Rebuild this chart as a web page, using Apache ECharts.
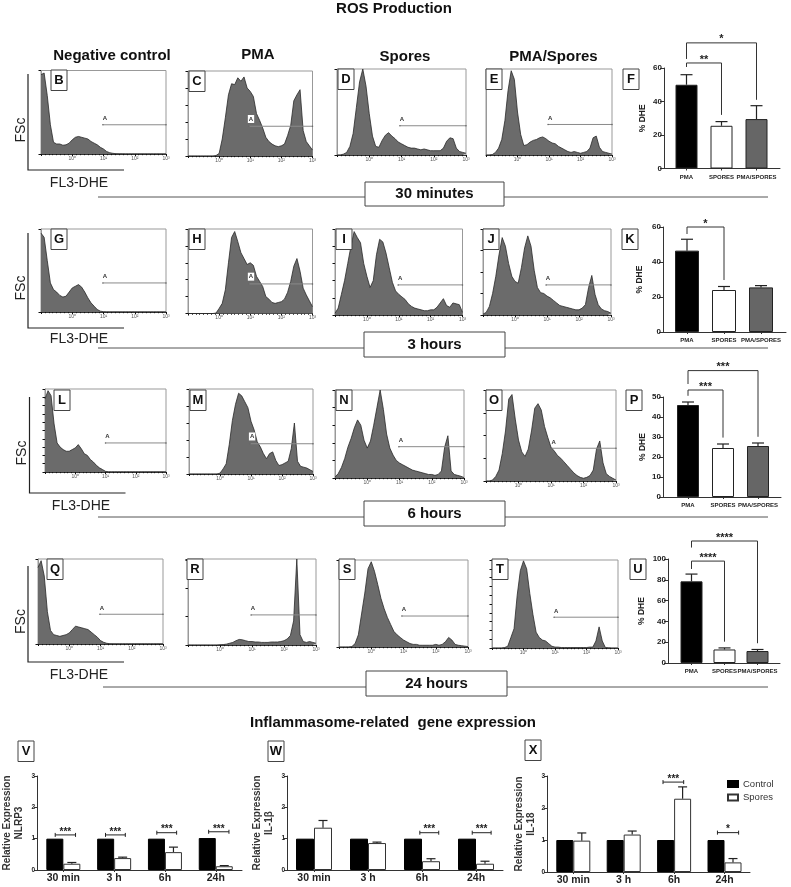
<!DOCTYPE html>
<html><head><meta charset="utf-8">
<script src="https://cdn.jsdelivr.net/npm/echarts@6/dist/echarts.min.js"></script>
<style>html,body{margin:0;padding:0;background:#fff}#c{width:791px;height:887px}</style>
</head><body><div id="c"></div>
<script>
// ---------- histogram values (height in % of the plot, one reading every 0.1 decade)
const histB=[95,97,70,35,14,12,12,10.5,11,13,17,20,21,20,19,18,15,13,11,8,6,3,1.5,.8,.4,.3,.3,.2,.2,.2,.2,.2,.2,.2,.2,.2,.2,.2,.2,.2,.2];
const histC=[0,0,0,0,0,0,0,0,0,.5,3,20,45,72,85,84,92,88,93,80,76,70,50,42,33,22,17,14,12,11,12,14,24,36,65,72,78,30,17,12,7];
const histD=[0,0,1,3,10,25,55,85,100,80,48,22,10,9,17,23,26,22,19,15,13,11,9,8,8,7,6,7,6,5,5,5,5,8,16,20,19,8,4,3,2];
const histE=[0,0,.5,3,8,18,40,75,98,88,50,24,11,12,15,17,18,20,21,19,16,14,13,10,8,6,4,3,4,3,2,3,4,8,20,22,9,4,3,2,1];
const histG=[95,90,62,35,27,24,20,18,19,24,29,31,33,30,24,17,11,7,3,1,.4,.2,.2,.2,.2,.2,.2,.2,.2,.2,.2,.2,.2,.2,.2,.2,.2,.2,.2,.2,.2];
const histH=[0,0,0,0,0,0,0,0,0,.5,6,12,28,60,90,97,85,72,65,58,60,57,44,38,32,20,17,13,12,13,14,17,25,38,56,65,50,30,22,15,8];
const histI=[2,8,24,40,60,80,97,90,84,60,45,32,40,70,88,85,72,55,38,28,24,21,18,13,10,8,7,6,5,5,6,6,9,14,19,11,9,14,13,12,3];
const histJ=[1,3,10,25,45,70,90,80,60,45,39,37,55,78,92,80,52,32,26,25,22,20,17,14,11,10,9,8,7,6,6,8,12,32,46,24,12,7,5,4,2];
const histL=[88,98,92,58,35,30,27,25,25,27,29,33,28,22,20,15,12,8,5,3,.8,.3,.3,.3,.3,.3,.3,.3,.3,.3,.3,.3,.3,.3,.3,.3,.3,.3,.3,.3,.3];
const histM=[0,0,0,0,0,0,0,0,0,0,1,6,12,35,63,82,95,92,85,78,62,52,38,32,24,18,24,26,16,10,11,13,15,30,60,15,9,8,7,5,3];
const histN=[1,5,12,22,35,45,57,66,60,43,34,42,60,80,100,78,50,34,26,20,17,15,13,11,9,8,7,6,5,4,4,3,4,8,35,48,8,4,3,2,.5];
const histO=[0,0,1,5,12,30,55,90,95,68,45,32,27,35,55,80,85,78,60,48,37,33,28,25,21,17,13,9,6,4,3,4,6,12,35,44,20,8,5,3,1];
const histQ=[90,98,80,38,16,11,10,9,10,11,13,17,21,20,19,18,17,14,11,8,4,2,.8,.4,.3,.3,.3,.3,.3,.3,.3,.3,.3,.3,.3,.3,.3,.3,.3,.3,.3];
const histR=[0,0,0,0,0,0,0,0,0,0,.3,.5,1,2,3,5,6.5,6,5,4,4,3.5,3.5,3,3,3,3.5,3.5,3.5,4,5,7,11,28,100,12,4,3,4,3,2];
const histS=[0,0,0,0,.5,4,14,38,62,90,98,87,72,56,44,34,26,18,14,11,8,6,4,3,3,2,2,2,2,2,3,2,3,6,11,8,3,2,1.5,1,.5];
const histT=[0,0,0,0,.5,2,12,22,60,88,99,90,62,38,18,12,9,8,5,2,1,1,.5,.5,.5,.5,.5,.5,.5,.5,.5,1,1,8,24,8,.5,.3,0,0,0];
// gate A: start decade and height (%)
const gates={B:[1.98,35],C:[1.96,35],D:[1.95,34],E:[1.97,35.5],G:[1.98,35],H:[1.96,35],I:[1.98,35],J:[1.97,35],L:[2,35],M:[1.97,35.6],N:[1.98,35.6],O:[2.02,36],Q:[1.98,35],R:[1.97,35],S:[1.95,35.6],T:[1.97,35]};
const decadeLabels=['10⁰','10¹','10²','10³'];

// ---------- % DHE bars
const dheCategories=['PMA','SPORES','PMA/SPORES'];
const dheF=[50,25.5,29.5], dheFTop=[56,28,37.5];
const dheK=[46.5,24,25.5], dheKTop=[53,26,26.5];
const dheP=[46,24.5,25.5], dhePTop=[47.5,26.5,27];
const dheU=[78.5,13,11.5], dheUTop=[85.5,14.5,13];
const sigF=[[0,1,60.6,63,32,'**'],[0,2,65.4,75,41,'*']];
const sigK=[[0,1,56,60,29.7,'*']];
const sigP=[[0,1,50.6,53.5,29.7,'***'],[0,2,56.5,63.2,30.1,'***']];
const sigU=[[0,1,90.4,98,20.5,'****'],[0,2,111,117.3,19,'****']];

// ---------- gene expression
const timeLabels=['30 min','3 h','6h','24h'];
const nlrp3Control=[1,1,1,1.02], nlrp3Spores=[.2,.38,.57,.12], nlrp3Top=[.24,.41,.73,.14];
const il1bControl=[1,1,1,1], il1bSpores=[1.35,.86,.28,.2], il1bTop=[1.58,.89,.36,.28];
const il18Control=[1,1,1,1], il18Spores=[.98,1.17,2.29,.3], il18Top=[1.22,1.28,2.66,.42];
const sigV=[[-.16,.24,1.12,'***'],[.83,1.22,1.12,'***'],[1.84,2.23,1.19,'***'],[2.86,3.26,1.22,'***']];
const sigW=[[1.96,2.31,1.19,'***'],[2.93,3.28,1.19,'***']];
const sigX=[[1.78,2.19,2.81,'***'],[2.86,3.28,1.23,'*']];

// ---------- layout (separate from the values)
const histBox={B:[41,70.5,125,83.5],C:[188,71,124.5,85],D:[337,69,129,86],E:[486,69,126,86],
 G:[41,229,125,83],H:[188,229,124.5,84.5],I:[335,229,127.5,86],J:[483,229,128,86],
 L:[45,389,121,83],M:[189,389,124,85],N:[335,390,129,88],O:[486,390,130,91],
 Q:[38,559,125,85],R:[188,559,128,86],S:[339,560,129,87],T:[492,560,126,88]};
const yTickInterval={B:100,C:20,D:100,E:200,G:100,H:20,I:20,J:25,L:10,M:20,N:20,O:25,Q:100,R:33,S:100,T:10};
const histSeries={B:histB,C:histC,D:histD,E:histE,G:histG,H:histH,I:histI,J:histJ,L:histL,M:histM,N:histN,O:histO,Q:histQ,R:histR,S:histS,T:histT};
const whiteGateLabel={C:1,H:1,M:1};
const letterBoxes=[['B',51,70],['C',189,71],['D',338,69],['E',486,69],['F',623,69],['G',51,229],['H',189,229],['I',336,229],['J',483,229],['K',622,229],
 ['L',54,390],['M',190,390],['N',336,390],['O',486,390],['P',626,390],['Q',47,559],['R',187,559],['S',339,559],['T',492,559],['U',630,559],['V',18,741],['W',268,741],['X',525,740]];
const rowLabels=[['30 minutes',98,768,182,206,365,504,197],['3 hours',98,768,332,357,364,505,348],['6 hours',98,768,501,526,364,505,517],['24 hours',103,768,671,696,366,507,687]];
const cornerAxes=[[28,74,170,124,21,130,79,183],[28,233,328,124,21,288,79,339],[29.5,397,493,125.5,22,453,81,506.5],[28,566,662,124,21,621.5,79,675]];
const headings=[['ROS Production',394,9,15],['Negative control',112,56,15],['PMA',258,55,15],['Spores',405,57,15],['PMA/Spores',553.5,57,15],['Inflammasome-related  gene expression',393,723,15]];

const grid=[],xAxis=[],yAxis=[],series=[],graphic=[];
const FONT='"Liberation Sans",Arial,sans-serif';

function addHist(key){
  const [l,t,w,h]=histBox[key], idx=grid.length;
  grid.push({left:l,top:t,width:w,height:h,show:true,borderColor:'#999',borderWidth:1,backgroundColor:'transparent'});
  xAxis.push({type:'value',gridIndex:idx,min:0,max:4,interval:1,splitLine:{show:false},
    axisLine:{onZero:false,lineStyle:{color:'#333',width:1}},axisTick:{length:2,lineStyle:{color:'#111'}},
    minorTick:{show:true,splitNumber:8,length:1.2,lineStyle:{color:'#111'}},
    axisLabel:{margin:2,fontSize:5,color:'#555',fontFamily:FONT,formatter:v=>v>0?decadeLabels[v-1]:''}});
  yAxis.push({type:'value',gridIndex:idx,min:0,max:100,interval:yTickInterval[key],splitLine:{show:false},
    axisLine:{show:true,onZero:false,lineStyle:{color:'#999'}},axisTick:{show:yTickInterval[key]<=100,length:2.5,lineStyle:{color:'#111'}},axisLabel:{show:false}});
  series.push({type:'line',xAxisIndex:idx,yAxisIndex:idx,data:histSeries[key].map((v,i)=>[i/10,v]),
    symbol:'none',smooth:false,lineStyle:{color:'#2a2a2a',width:.8},areaStyle:{color:'#6b6b6b',opacity:1},silent:true});
  const g=gates[key];
  series.push({type:'line',xAxisIndex:idx,yAxisIndex:idx,symbol:'circle',symbolSize:1.5,silent:true,
    lineStyle:{color:'#8a8a8a',width:1},itemStyle:{color:'#666'},z:5,
    data:[{value:[g[0],g[1]],label:{show:true,formatter:'A',position:'top',distance:2.5,offset:[2,0],fontSize:6,fontWeight:'bold',color:'#333',fontFamily:FONT,
      backgroundColor:whiteGateLabel[key]?'#fff':'transparent',padding:whiteGateLabel[key]?[1,1]:0}},[4,g[1]]]});
}

function errSeries(idx,items,dx,cap){
  return {type:'custom',xAxisIndex:idx,yAxisIndex:idx,data:items,silent:true,clip:false,z:1,encode:{x:0,y:[1,2]},
    renderItem(p,api){
      const a=api.coord([api.value(0),api.value(1)]),b=api.coord([api.value(0),api.value(2)]),x=a[0]+dx;
      const st={stroke:'#222',lineWidth:1.2,fill:null};
      return {type:'group',children:[
        {type:'line',shape:{x1:x,y1:a[1],x2:x,y2:b[1]},style:st},
        {type:'line',shape:{x1:x-cap,y1:b[1],x2:x+cap,y2:b[1]},style:st}]};
    }};
}

function addDhe(values,tops,sig,cfg){
  const idx=grid.length;
  grid.push({left:cfg.left,top:cfg.top,width:cfg.right-cfg.left,height:cfg.bottom-cfg.top});
  xAxis.push({type:'value',gridIndex:idx,min:(cfg.left-cfg.c0)/cfg.sp,max:(cfg.right-cfg.c0)/cfg.sp,splitLine:{show:false},
    axisLine:{onZero:false,lineStyle:{color:'#333',width:1}},
    axisTick:{customValues:[0,1,2],length:2,lineStyle:{color:'#333'}},
    axisLabel:{customValues:[0,1,2],margin:5.5,fontSize:6,fontWeight:'bold',color:'#222',fontFamily:FONT,formatter:v=>dheCategories[v]}});
  yAxis.push({type:'value',gridIndex:idx,min:0,max:cfg.ymax,interval:cfg.interval,splitLine:{show:false},
    name:'% DHE',nameLocation:'middle',nameGap:cfg.gap,nameTextStyle:{fontSize:8.5,fontWeight:'bold',color:'#222',fontFamily:FONT},
    axisLine:{show:true,onZero:false,lineStyle:{color:'#333',width:1}},axisTick:{length:4,lineStyle:{color:'#333',width:1}},
    axisLabel:{margin:2,fontSize:8,fontWeight:'bold',color:'#222',fontFamily:FONT}});
  const colors=['#000','#fff','#666'];
  series.push({type:'bar',xAxisIndex:idx,yAxisIndex:idx,barWidth:cfg.barW,silent:true,z:2,
    data:values.map((v,i)=>({value:[i,v],itemStyle:{color:colors[i],borderColor:'#222',borderWidth:1}}))});
  series.push(errSeries(idx,values.map((v,i)=>[i,v,tops[i]]),0,6));
  series.push({type:'custom',xAxisIndex:idx,yAxisIndex:idx,data:sig.map(s=>s.slice(0,5)),silent:true,clip:false,z:3,encode:{x:[0,1],y:[2,3,4]},
    renderItem(p,api){
      const s=sig[p.dataIndex];
      const A=api.coord([s[0],s[2]]),B=api.coord([s[0],s[3]]),C=api.coord([s[1],s[3]]),D=api.coord([s[1],s[4]]);
      return {type:'group',children:[
        {type:'polyline',shape:{points:[A,B,C,D]},style:{stroke:'#333',lineWidth:1,fill:null}},
        {type:'text',style:{text:s[5],x:(B[0]+C[0])/2,y:B[1]+2,textAlign:'center',textVerticalAlign:'bottom',fontSize:11,fontWeight:'bold',fontFamily:FONT,fill:'#222'}}]};
    }});
}

function addGene(control,spores,tops,sig,gene,cfg){
  const idx=grid.length;
  grid.push({left:cfg.left,top:cfg.top,width:cfg.right-cfg.left,height:cfg.bottom-cfg.top});
  xAxis.push({type:'value',gridIndex:idx,min:(cfg.left-cfg.c0)/cfg.sp,max:(cfg.right-cfg.c0)/cfg.sp,splitLine:{show:false},
    axisLine:{onZero:false,lineStyle:{color:'#333',width:1}},axisTick:{customValues:[0,1,2,3],length:2,lineStyle:{color:'#333'}},
    axisLabel:{customValues:[0,1,2,3],margin:3,fontSize:10.5,fontWeight:'bold',color:'#222',fontFamily:FONT,formatter:v=>timeLabels[v]}});
  yAxis.push({type:'value',gridIndex:idx,min:0,max:3,interval:1,splitLine:{show:false},
    name:'Relative Expression\n'+gene,nameLocation:'middle',nameGap:cfg.gap,nameTextStyle:{fontSize:10,lineHeight:12,fontWeight:'bold',color:'#333',fontFamily:FONT},
    axisLine:{show:true,onZero:false,lineStyle:{color:'#333',width:1}},axisTick:{length:3,lineStyle:{color:'#333'}},
    axisLabel:{margin:2,fontSize:6.5,fontWeight:'bold',color:'#222',fontFamily:FONT}});
  const common={type:'bar',xAxisIndex:idx,yAxisIndex:idx,barWidth:cfg.barW,barGap:'0%',silent:true,z:2};
  series.push({...common,name:'Control',itemStyle:{color:'#000',borderColor:'#000',borderWidth:1},data:control.map((v,i)=>[i,v])});
  series.push({...common,name:'Spores',itemStyle:{color:'#fff',borderColor:'#333',borderWidth:1},data:spores.map((v,i)=>[i,v])});
  series.push(errSeries(idx,spores.map((v,i)=>[i,v,tops[i]]),cfg.barW/2,4.5));
  series.push({type:'custom',xAxisIndex:idx,yAxisIndex:idx,data:sig.map(s=>s.slice(0,3)),silent:true,clip:false,z:3,encode:{x:[0,1],y:2},
    renderItem(p,api){
      const s=sig[p.dataIndex];
      const A=api.coord([s[0],s[2]]),B=api.coord([s[1],s[2]]);
      const st={stroke:'#222',lineWidth:1,fill:null};
      return {type:'group',children:[
        {type:'line',shape:{x1:A[0],y1:A[1],x2:B[0],y2:B[1]},style:st},
        {type:'line',shape:{x1:A[0],y1:A[1]-2,x2:A[0],y2:A[1]+2},style:st},
        {type:'line',shape:{x1:B[0],y1:B[1]-2,x2:B[0],y2:B[1]+2},style:st},
        {type:'text',style:{text:s[3],x:(A[0]+B[0])/2,y:A[1]+2,textAlign:'center',textVerticalAlign:'bottom',fontSize:10,fontWeight:'bold',fontFamily:FONT,fill:'#222'}}]};
    }});
}

Object.keys(histBox).forEach(addHist);
addDhe(dheF,dheFTop,sigF,{left:664,right:780,c0:686.5,sp:35,top:68,bottom:168.5,ymax:60,interval:20,barW:22,gap:17});
addDhe(dheK,dheKTop,sigK,{left:663,right:786,c0:687,sp:37,top:227,bottom:332,ymax:60,interval:20,barW:24,gap:19});
addDhe(dheP,dhePTop,sigP,{left:663,right:781,c0:688,sp:35,top:397,bottom:497,ymax:50,interval:10,barW:22,gap:16});
addDhe(dheU,dheUTop,sigU,{left:668,right:780,c0:691.5,sp:33,top:559,bottom:663,ymax:100,interval:20,barW:22,gap:22});
addGene(nlrp3Control,nlrp3Spores,nlrp3Top,sigV,'NLRP3',{left:35,right:242,c0:61.6,sp:51.3,top:776,bottom:870,barW:17,gap:12});
addGene(il1bControl,il1bSpores,il1bTop,sigW,'IL-1β',{left:287,right:503,c0:314,sp:54,top:776,bottom:870,barW:18,gap:12});
addGene(il18Control,il18Spores,il18Top,sigX,'IL-18',{left:547,right:750,c0:573.3,sp:50.4,top:776,bottom:872,barW:17,gap:10});

// annotations
headings.forEach(([t,x,y,s])=>graphic.push({type:'text',z:50,style:{text:t,x,y,textAlign:'center',textVerticalAlign:'middle',fontSize:s,fontWeight:'bold',fontFamily:FONT,fill:'#111'}}));
letterBoxes.forEach(([t,x,y])=>{
  graphic.push({type:'rect',z:60,shape:{x,y,width:16,height:20.5},style:{fill:'#fff',stroke:'#444',lineWidth:1}});
  graphic.push({type:'text',z:61,style:{text:t,x:x+8,y:y+10.5,textAlign:'center',textVerticalAlign:'middle',fontSize:13,fontWeight:'bold',fontFamily:FONT,fill:'#111'}});
});
rowLabels.forEach(([t,x1,x2,y1,y2,bx1,bx2,ly])=>{
  graphic.push({type:'line',z:40,shape:{x1,y1:ly,x2,y2:ly},style:{stroke:'#555',lineWidth:1}});
  graphic.push({type:'rect',z:41,shape:{x:bx1,y:y1,width:bx2-bx1,height:y2-y1},style:{fill:'#fff',stroke:'#444',lineWidth:1}});
  graphic.push({type:'text',z:42,style:{text:t,x:(bx1+bx2)/2,y:(y1+y2)/2,textAlign:'center',textVerticalAlign:'middle',fontSize:15,fontWeight:'bold',fontFamily:FONT,fill:'#111'}});
});
cornerAxes.forEach(([x,y1,y2,x2,fx,fy,lx,ly])=>{
  graphic.push({type:'polyline',z:40,shape:{points:[[x,y1],[x,y2],[x2,y2]]},style:{stroke:'#222',lineWidth:1.2,fill:null}});
  graphic.push({type:'text',z:40,rotation:Math.PI/2,x:fx,y:fy,style:{text:'FSc',x:0,y:0,textAlign:'center',textVerticalAlign:'middle',fontSize:14,fontFamily:FONT,fill:'#222'}});
  graphic.push({type:'text',z:40,style:{text:'FL3-DHE',x:lx,y:ly,textAlign:'center',textVerticalAlign:'middle',fontSize:14,fontFamily:FONT,fill:'#222'}});
});

const chart=echarts.init(document.getElementById('c'),null,{renderer:'canvas'});
chart.setOption({animation:false,backgroundColor:'#fff',grid,xAxis,yAxis,series,graphic,
  legend:{data:[{name:'Control',icon:'rect'},{name:'Spores',icon:'rect'}],orient:'vertical',left:722,top:774,padding:5,itemWidth:10,itemHeight:6,itemGap:3.5,
    textStyle:{fontSize:9.5,color:'#333',fontFamily:FONT,padding:[0,0,0,0]}}});
</script></body></html>
